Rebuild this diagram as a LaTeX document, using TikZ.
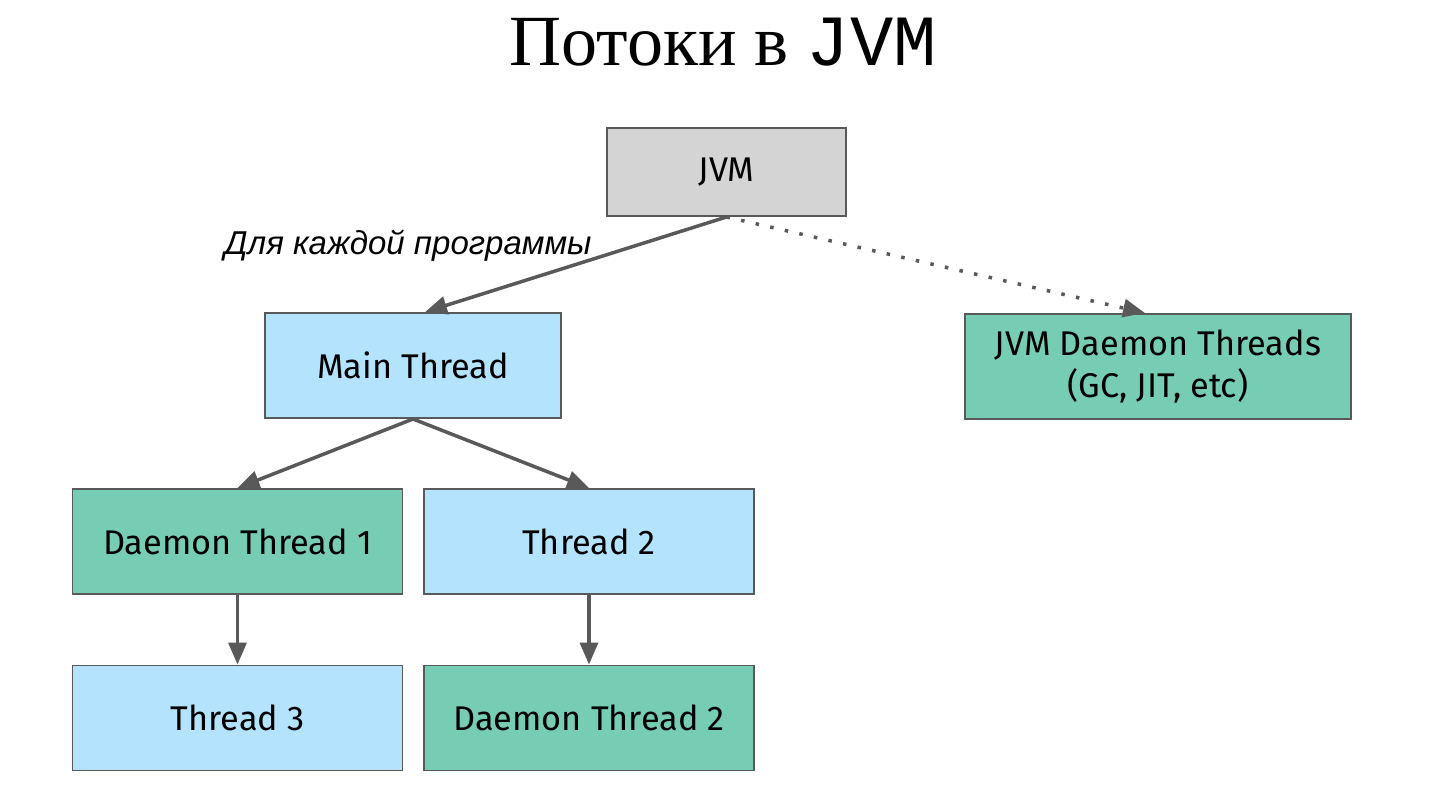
\documentclass[tikz,border=0pt]{standalone}
\usepackage{fontspec}
\usetikzlibrary{arrows.meta}
\setmainfont{Fira Sans}
\newfontfamily\titleserif{Liberation Serif}
\newfontfamily\titlemono{Liberation Mono}
\newfontfamily\labelfont{Liberation Sans}
\definecolor{jvmgray}{HTML}{D4D4D4}
\definecolor{threadblue}{HTML}{B3E3FD}
\definecolor{daemongreen}{HTML}{76CDB4}
\definecolor{edgegray}{HTML}{595959}

\begin{document}
\begin{tikzpicture}[
  box/.style={rectangle,draw=edgegray,line width=1.1pt,inner sep=0pt,align=center,font=\fontsize{19.5}{24}\selectfont},  jvmbox/.style={box,fill=jvmgray,minimum width=4.78cm,minimum height=1.76cm},  thread/.style={box,fill=threadblue,minimum width=6.6cm,minimum height=2.1cm},  daemon/.style={box,fill=daemongreen,minimum width=6.6cm,minimum height=2.1cm},  link/.style={draw=edgegray,line width=2pt,-{Triangle[length=0.44cm,width=0.36cm]}}
]
  \useasboundingbox (0,0) rectangle (29.02,-15.98);
  \node (title) at (14.46,-0.84) {\fontsize{41}{46}\selectfont\titleserif Потоки в \titlemono JVM};
  \node[jvmbox] (jvm) at (14.53,-3.44) {JVM};
  \node[thread,minimum width=5.92cm] (main) at (8.26,-7.31) {Main Thread};
  \node[daemon,minimum width=7.72cm] (jvmd) at (23.16,-7.33) {JVM Daemon Threads\\(GC, JIT, etc)};
  \node[daemon] (dt1) at (4.75,-10.83) {Daemon Thread 1};
  \node[thread] (t2) at (11.78,-10.83) {Thread 2};
  \node[thread] (t3) at (4.75,-14.36) {Thread 3};
  \node[daemon] (dt2) at (11.78,-14.36) {Daemon Thread 2};
  \node[font=\fontsize{18.8}{22}\selectfont\labelfont\itshape] (each) at (8.16,-4.92) {Для каждой программы};
  \draw[link] (jvm.south) -- ([xshift=0.24cm]main.north);
  \draw[link,dash pattern=on 2pt off 6.5pt] (jvm.south) -- ([xshift=-0.26cm]jvmd.north);
  \draw[link] (main.south) -- (dt1.north);
  \draw[link] (main.south) -- (t2.north);
  \draw[link] (dt1.south) -- (t3.north);
  \draw[link] (t2.south) -- (dt2.north);
\end{tikzpicture}
\end{document}
